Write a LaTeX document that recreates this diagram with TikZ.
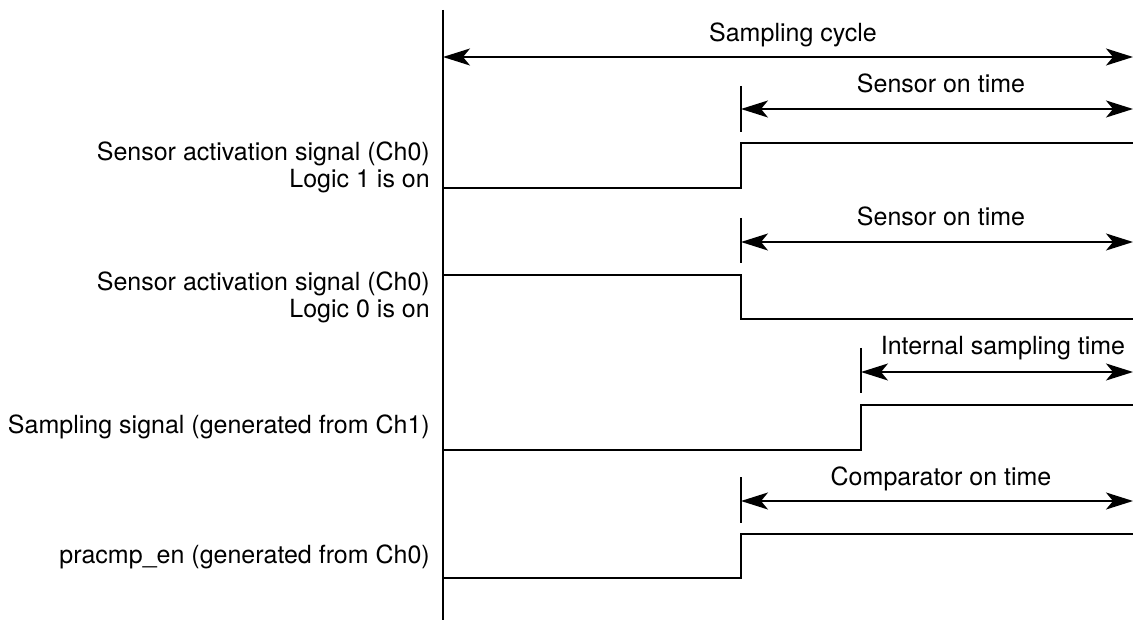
\documentclass[tikz,border=0pt]{standalone}
\usepackage{fontspec}
\setmainfont{TeX Gyre Heros}
\usetikzlibrary{arrows.meta,positioning}

\begin{document}
\begin{tikzpicture}[x=1pt, y=-1pt,
  sig/.style={line width=2pt},
  span/.style={line width=1.6pt, {Stealth[length=27pt,width=17pt,inset=7pt]}-{Stealth[length=27pt,width=17pt,inset=7pt]}},
  tickline/.style={line width=1.6pt},
  lbl/.style={font=\fontsize{25}{27}\selectfont, inner sep=0pt}]
\useasboundingbox (0,0) rectangle (1133,620);
% time axis
\coordinate (ax0) at (443,10);
\coordinate (ax1) at (443,620);
\draw[sig] (ax0) -- (ax1);
% sampling cycle
\coordinate (cyA) at (443,57);
\coordinate (cyB) at (1133,57);
\draw[span] (cyA) -- (cyB);
\node[lbl, anchor=base] (cyc) at (793,42) {Sampling cycle};
% sensor on time (logic 1)
\coordinate (t1a) at (741,86);
\coordinate (t1b) at (741,132);
\draw[tickline] (t1a) -- (t1b);
\coordinate (on1A) at (741,109);
\coordinate (on1B) at (1133,109);
\draw[span] (on1A) -- (on1B);
\node[lbl, anchor=base] (on1) at (941,93) {Sensor on time};
\draw[sig] (443,188) -- (741,188) -- (741,143) -- (1133,143);
\node[lbl, align=right, anchor=east] (s1) at (430,167) {Sensor activation signal (Ch0)\\Logic 1 is on};
% sensor on time (logic 0)
\coordinate (t2a) at (741,218);
\coordinate (t2b) at (741,263);
\draw[tickline] (t2a) -- (t2b);
\coordinate (on2A) at (741,242);
\coordinate (on2B) at (1133,242);
\draw[span] (on2A) -- (on2B);
\node[lbl, anchor=base] (on2) at (941,226) {Sensor on time};
\draw[sig] (443,275) -- (741,275) -- (741,319) -- (1133,319);
\node[lbl, align=right, anchor=east] (s2) at (430,297) {Sensor activation signal (Ch0)\\Logic 0 is on};
% internal sampling time
\coordinate (t3a) at (861,348);
\coordinate (t3b) at (861,393);
\draw[tickline] (t3a) -- (t3b);
\coordinate (smA) at (861,372);
\coordinate (smB) at (1133,372);
\draw[span] (smA) -- (smB);
\node[lbl, anchor=base] (sm) at (1003,355) {Internal sampling time};
\draw[sig] (443,450) -- (861,450) -- (861,405) -- (1133,405);
\node[lbl, anchor=base east] (s3) at (430,433) {Sampling signal (generated from Ch1)};
% comparator on time
\coordinate (t4a) at (741,477);
\coordinate (t4b) at (741,523);
\draw[tickline] (t4a) -- (t4b);
\coordinate (cmA) at (741,501);
\coordinate (cmB) at (1133,501);
\draw[span] (cmA) -- (cmB);
\node[lbl, anchor=base] (cm) at (941,485) {Comparator on time};
\draw[sig] (443,578) -- (741,578) -- (741,534) -- (1133,534);
\node[lbl, anchor=base east] (s4) at (430,563) {pracmp\_en (generated from Ch0)};
\end{tikzpicture}
\end{document}
